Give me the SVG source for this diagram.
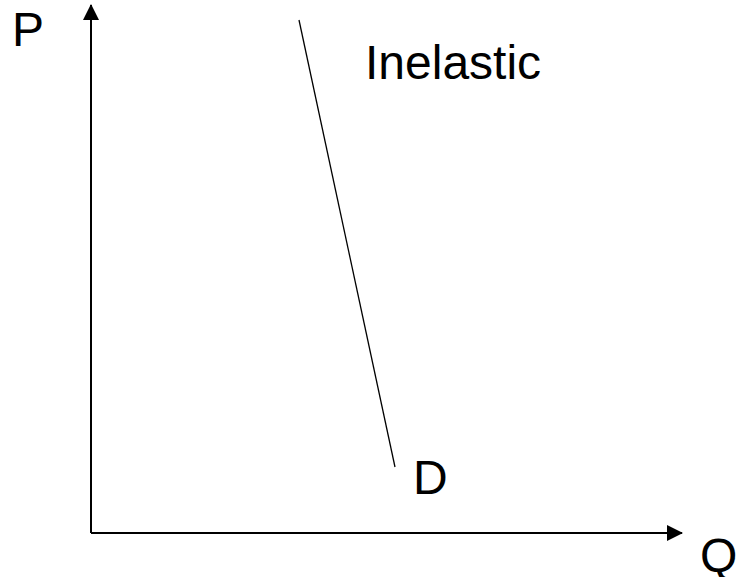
<svg xmlns="http://www.w3.org/2000/svg" width="743" height="577" viewBox="0 0 743 577">
<style>
.lbl{font-family:"Liberation Sans",Arial,sans-serif;font-size:48px;fill:#000}
.axis{stroke:#000;stroke-width:2;fill:none}
</style>
<defs>
<marker id="ah" viewBox="0 0 16 16" refX="15" refY="8" markerWidth="16" markerHeight="16" markerUnits="userSpaceOnUse" orient="auto">
<path d="M0,0 L16,8 L0,16 Z" fill="#000"/>
</marker>
</defs>
<g id="connectors">
<line class="axis" x1="91" y1="533" x2="91" y2="5" marker-end="url(#ah)"/>
<line class="axis" x1="91" y1="533" x2="682" y2="533" marker-end="url(#ah)"/>
</g>
<g id="demand">
<line x1="299" y1="20" x2="395" y2="467" stroke="#000" stroke-width="1.3"/>
</g>
<g id="label-P"><text class="lbl" x="12" y="46">P</text></g>
<g id="label-Q"><text class="lbl" x="700" y="572">Q</text></g>
<g id="label-inelastic"><text class="lbl" x="365" y="79">Inelastic</text></g>
<g id="label-D"><text class="lbl" x="413" y="494">D</text></g>
</svg>
